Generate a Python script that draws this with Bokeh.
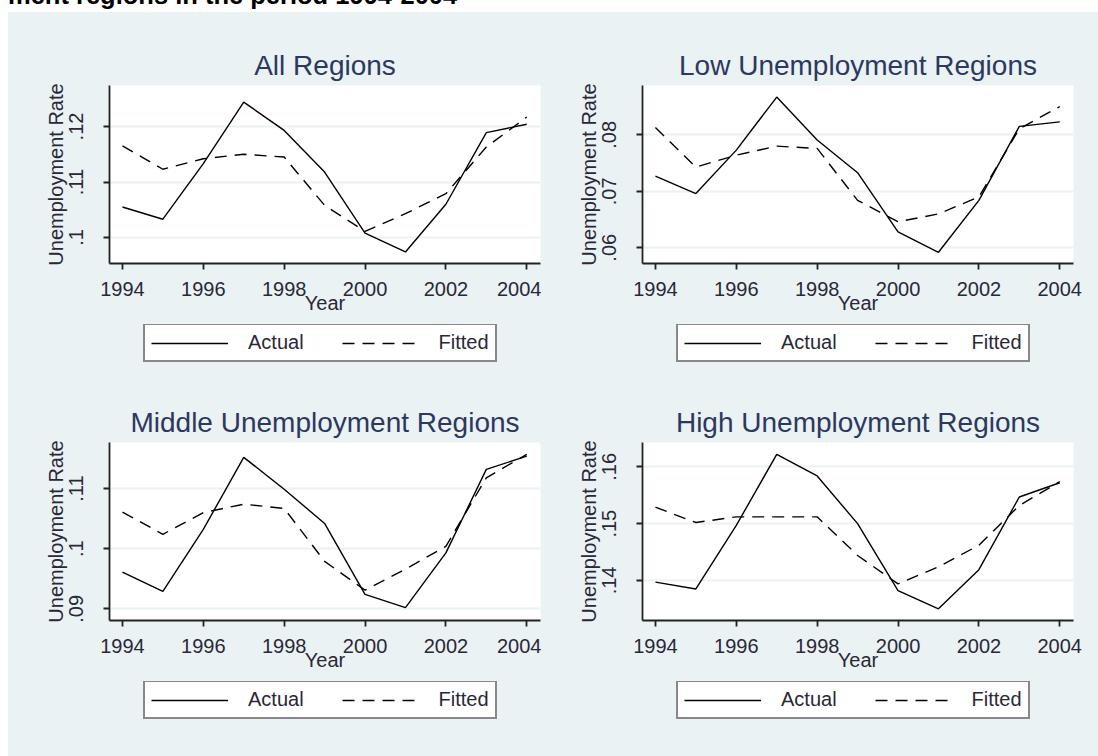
from bokeh.plotting import figure
from bokeh.models import Legend, LegendItem, Div, FixedTicker, Range1d
from bokeh.layouts import column, row
from bokeh.embed import file_html
from bokeh.resources import INLINE

years = [1994, 1995, 1996, 1997, 1998, 1999, 2000, 2001, 2002, 2003, 2004]
x_ticks = [1994, 1996, 1998, 2000, 2002, 2004]

titles = ["All Regions", "Low Unemployment Regions",
          "Middle Unemployment Regions", "High Unemployment Regions"]
series_names = ["Actual", "Fitted"]

all_actual = [0.1055, 0.1033, 0.1133, 0.1244, 0.1193, 0.1118, 0.1008, 0.0974, 0.1060, 0.1189, 0.1204]
all_fitted = [0.1165, 0.1123, 0.1142, 0.1150, 0.1145, 0.1058, 0.1011, 0.1043, 0.1079, 0.1163, 0.1217]

low_actual = [0.0727, 0.0696, 0.0773, 0.0867, 0.0791, 0.0733, 0.0628, 0.0592, 0.0684, 0.0815, 0.0823]
low_fitted = [0.0813, 0.0743, 0.0764, 0.0780, 0.0776, 0.0684, 0.0646, 0.0660, 0.0690, 0.0811, 0.0850]

mid_actual = [0.0961, 0.0929, 0.1032, 0.1152, 0.1099, 0.1042, 0.0924, 0.0902, 0.0993, 0.1132, 0.1154]
mid_fitted = [0.1061, 0.1024, 0.1060, 0.1074, 0.1067, 0.0979, 0.0931, 0.0966, 0.1004, 0.1118, 0.1157]

high_actual = [0.1397, 0.1385, 0.1497, 0.1622, 0.1584, 0.1500, 0.1382, 0.1350, 0.1419, 0.1547, 0.1572]
high_fitted = [0.1529, 0.1502, 0.1512, 0.1512, 0.1512, 0.1444, 0.1394, 0.1424, 0.1462, 0.1532, 0.1574]

y_ticks = [[0.10, 0.11, 0.12], [0.06, 0.07, 0.08], [0.09, 0.10, 0.11], [0.14, 0.15, 0.16]]
y_tick_labels = [[".1", ".11", ".12"], [".06", ".07", ".08"], [".09", ".1", ".11"], [".14", ".15", ".16"]]
y_ranges = [(0.09532, 0.12739), (0.05721, 0.08875), (0.08805, 0.11767), (0.13295, 0.16429)]

BG = "#EAF2F3"
FONT = "Liberation Sans"
TXT = "#2a2838"
TITLE_C = "#2d3860"
DASH = "12 8"


def panel(i, actual, fitted, width, mb_right):
    p = figure(width=width, height=312, output_backend="svg", toolbar_location=None,
               x_range=Range1d(1993.68, 2004.34), y_range=Range1d(*y_ranges[i]),
               min_border_left=101, min_border_right=mb_right, min_border_top=73,
               min_border_bottom=61)
    p.background_fill_color = "white"
    p.border_fill_color = BG
    p.outline_line_color = None
    p.title.text = titles[i]
    p.title.align = "center"
    p.title.text_font = FONT
    p.title.text_font_size = "28px"
    p.title.text_font_style = "normal"
    p.title.text_color = TITLE_C
    p.title.standoff = 9

    p.line(years, actual, line_color="black", line_width=1.4)
    p.line(years, fitted, line_color="black", line_width=1.4, line_dash=DASH)

    p.xgrid.visible = False
    p.ygrid.grid_line_color = BG
    p.ygrid.grid_line_width = 2

    p.xaxis.ticker = FixedTicker(ticks=x_ticks)
    p.yaxis.ticker = FixedTicker(ticks=y_ticks[i])
    p.yaxis.major_label_overrides = {t: l for t, l in zip(y_ticks[i], y_tick_labels[i])}
    p.yaxis.major_label_orientation = "vertical"
    for ax in (p.xaxis, p.yaxis):
        ax.axis_line_color = "#222222"
        ax.axis_line_width = 1.8
        ax.major_tick_line_color = "#222222"
        ax.major_tick_line_width = 1.8
        ax.major_tick_out = 6
        ax.major_tick_in = 0
        ax.minor_tick_line_color = None
        ax.major_label_text_font = FONT
        ax.major_label_text_font_size = "20px"
        ax.major_label_text_color = TXT
        ax.axis_label_text_font = FONT
        ax.axis_label_text_font_size = "20px"
        ax.axis_label_text_font_style = "normal"
        ax.axis_label_text_color = TXT
    p.xaxis.axis_label = "Year"
    p.xaxis.major_label_standoff = 12
    p.xaxis.axis_label_standoff = -7
    p.yaxis.axis_label = "Unemployment Rate"
    p.yaxis.major_label_standoff = 20
    p.yaxis.axis_label_standoff = 0
    return p


def legend_fig(actual, fitted, width, height, bottom_gap):
    # legend-only strip; the series lie outside its (0..1) ranges, only the key is seen
    lf = figure(width=width, height=height, output_backend="svg", toolbar_location=None,
                x_range=Range1d(0, 1), y_range=Range1d(0, 1),
                x_axis_location=None, y_axis_location=None,
                min_border_left=0, min_border_right=0, min_border_top=0, min_border_bottom=0)
    lf.background_fill_color = BG
    lf.border_fill_color = BG
    lf.outline_line_color = None
    lf.grid.visible = False
    r1 = lf.line(years, actual, line_color="black", line_width=1.4)
    r2 = lf.line(years, fitted, line_color="black", line_width=1.4, line_dash=DASH)
    legend = Legend(items=[LegendItem(label=series_names[0], renderers=[r1]),
                           LegendItem(label=series_names[1], renderers=[r2])],
                    orientation="horizontal", location=(135, bottom_gap),
                    glyph_width=77, glyph_height=20, label_standoff=20, spacing=38,
                    padding=6, margin=0, border_line_color="#111111", border_line_width=2,
                    background_fill_color="white", background_fill_alpha=1,
                    label_text_font=FONT, label_text_font_size="20px", label_text_color=TXT)
    lf.add_layout(legend, "center")
    return lf


f1 = panel(0, all_actual, all_fitted, 533, 1)
f2 = panel(1, low_actual, low_fitted, 557, 25)
f3 = panel(2, mid_actual, mid_fitted, 533, 1)
f4 = panel(3, high_actual, high_fitted, 557, 25)

l1 = legend_fig(all_actual, all_fitted, 533, 45, 7)
l2 = legend_fig(low_actual, low_fitted, 557, 45, 7)
l3 = legend_fig(mid_actual, mid_fitted, 533, 75, 37)
l4 = legend_fig(high_actual, high_fitted, 557, 75, 37)

top = Div(text='<div style="position:absolute; left:8px; top:-17px; font-family:\'Liberation Sans\'; '
               'font-weight:bold; font-size:25.5px; line-height:25px; white-space:nowrap; color:black">'
               'ment regions in the period 1994-2004</div>',
          width=1098, height=12, margin=0, styles={"overflow": "visible"})


def strip(h):
    return Div(text="", width=8, height=h, margin=0, styles={"background-color": "white"})


rs = {"background-color": BG}
layout = column(
    top,
    row(strip(312), f1, f2, styles=rs),
    row(strip(45), l1, l2, styles=rs),
    row(strip(312), f3, f4, styles=rs),
    row(strip(75), l3, l4, styles=rs),
)
open("out.html", "w").write(file_html(layout, INLINE))
